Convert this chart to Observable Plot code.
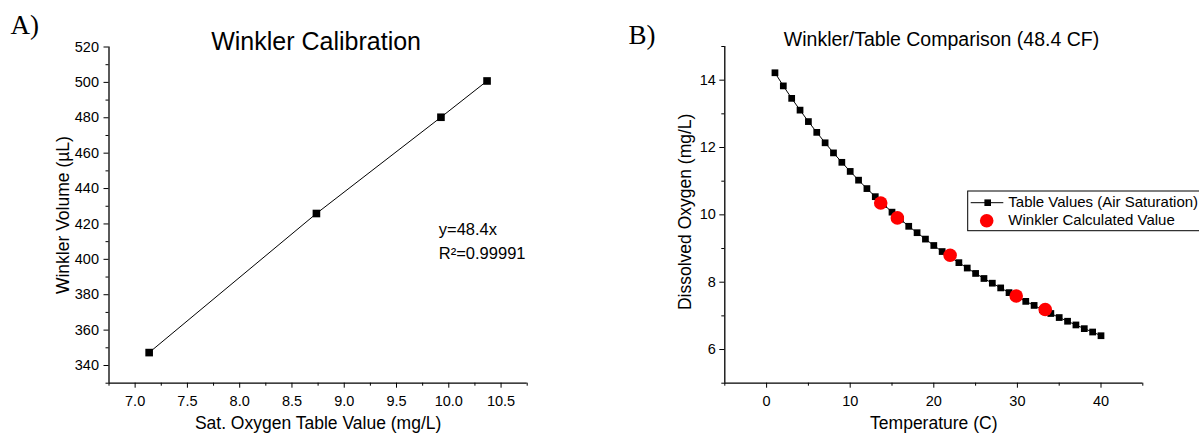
<!DOCTYPE html>
<html>
<head>
<meta charset="utf-8">
<script src="https://cdn.jsdelivr.net/npm/d3@7"></script>
<script src="https://cdn.jsdelivr.net/npm/@observablehq/plot@0.6"></script>
<style>
  html, body { margin: 0; padding: 0; background: #fff; }
  #wrap { position: relative; width: 1199px; height: 436px; overflow: hidden; background: #fff; }
  #wrap > svg, #wrap > figure { position: absolute; top: 0; margin: 0; }
</style>
</head>
<body>
<div id="wrap"></div>
<script>
// ---------- Panel A data ----------
const calibTable  = [7.134, 8.734, 9.925, 10.366];     // Sat. oxygen table value (mg/L)
const calibVolume = [347.3, 425.9, 480.3, 500.8];      // Winkler volume (µL)
const xDomainA = [6.75, 10.75];
const yDomainA = [330, 520];
const xMajorA = [7.0, 7.5, 8.0, 8.5, 9.0, 9.5, 10.0, 10.5];
const xMinorA = [6.75, 7.25, 7.75, 8.25, 8.75, 9.25, 9.75, 10.25, 10.75];
const yMajorA = [340, 360, 380, 400, 420, 440, 460, 480, 500, 520];
const yMinorA = [330, 350, 370, 390, 410, 430, 450, 470, 490, 510];

// ---------- Panel B data ----------
const tempC = [1, 2, 3, 4, 5, 6, 7, 8, 9, 10, 11, 12, 13, 14, 15, 16, 17, 18, 19, 20,
               21, 22, 23, 24, 25, 26, 27, 28, 29, 30, 31, 32, 33, 34, 35, 36, 37, 38, 39, 40];
const tableDO = [14.22, 13.83, 13.46, 13.11, 12.77, 12.45, 12.14, 11.84, 11.56, 11.29,
                 11.03, 10.78, 10.54, 10.31, 10.08, 9.87, 9.66, 9.47, 9.28, 9.09,
                 8.91, 8.74, 8.58, 8.42, 8.26, 8.11, 7.97, 7.83, 7.69, 7.56,
                 7.43, 7.31, 7.18, 7.07, 6.95, 6.84, 6.73, 6.62, 6.52, 6.41];
const winklerTemp = [13.65, 15.64, 21.95, 29.86, 33.33];
const winklerDO   = [10.35, 9.91, 8.80, 7.59, 7.19];
const xDomainB = [-5, 45];
const yDomainB = [5, 15];
const xMajorB = [0, 10, 20, 30, 40];
const xMinorB = [-5, 5, 15, 25, 35, 45];
const yMajorB = [6, 8, 10, 12, 14];
const yMinorB = [5, 7, 9, 11, 13, 15];

const legendLabels = ["Table Values (Air Saturation)", "Winkler Calculated Value"];

const SANS = "'Liberation Sans', Arial, Helvetica, sans-serif";
const SERIF = "'Liberation Serif', 'Times New Roman', serif";

const calibData = calibTable.map((v, i) => ({table: v, volume: calibVolume[i]}));
const tableData = tempC.map((t, i) => ({temp: t, oxygen: tableDO[i]}));
const winklerData = winklerTemp.map((t, i) => ({temp: t, oxygen: winklerDO[i]}));

const baseStyle = {fontFamily: SANS, fontSize: "14px", color: "black", background: "transparent", overflow: "visible"};
const txt = d => d;
const T = (s, o) => Plot.text([s], {text: txt, textAnchor: "middle", lineAnchor: "middle", ...o});

// ---------- Panel A ----------
const chartA = Plot.plot({
  width: 600, height: 436,
  marginLeft: 108.5, marginRight: 73.3, marginTop: 46.5, marginBottom: 53.3,
  style: baseStyle,
  x: {domain: xDomainA, label: null},
  y: {domain: yDomainA, label: null},
  marks: [
    Plot.axisX(xMajorA, {tickSize: 5, tickPadding: 8, tickFormat: d3.format(".1f"), fontSize: 14.5, label: null}),
    Plot.axisX(xMinorA, {tickSize: 3, fill: "none", label: null}),
    Plot.axisY(yMajorA, {tickSize: 5, tickPadding: 5, fontSize: 14.5, label: null}),
    Plot.axisY(yMinorA, {tickSize: 3, fill: "none", label: null}),
    Plot.ruleX([xDomainA[0]], {stroke: "black", strokeWidth: 1.3}),
    Plot.ruleY([yDomainA[0]], {stroke: "black", strokeWidth: 1.3}),
    Plot.line(calibData, {x: "table", y: "volume", stroke: "black", strokeWidth: 1}),
    Plot.dot(calibData, {x: "table", y: "volume", symbol: "square", r: 4.3, fill: "black", stroke: null}),
    T("A)", {frameAnchor: "top-left", textAnchor: "start", dx: -98.5, dy: -22, fontSize: 27, fontFamily: SERIF}),
    T("Winkler Calibration", {frameAnchor: "top", dx: -2, dy: -5.5, fontSize: 25}),
    T("Winkler Volume (µL)", {frameAnchor: "left", rotate: -90, dx: -45.5, fontSize: 17.5}),
    T("Sat. Oxygen Table Value (mg/L)", {frameAnchor: "bottom", dy: 40.5, fontSize: 17.5}),
    T("y=48.4x", {frameAnchor: "top-left", textAnchor: "start", dx: 329.8, dy: 183.2, fontSize: 16.5}),
    T("R²=0.99991", {frameAnchor: "top-left", textAnchor: "start", dx: 329.8, dy: 206.5, fontSize: 16.5})
  ]
});
chartA.style.left = "0px";

// ---------- Panel B ----------
const chartB = Plot.plot({
  width: 599, height: 436,
  marginLeft: 124.3, marginRight: 56.7, marginTop: 46, marginBottom: 53.3,
  style: baseStyle,
  x: {domain: xDomainB, label: null},
  y: {domain: yDomainB, label: null},
  marks: [
    Plot.axisX(xMajorB, {tickSize: 5, tickPadding: 8, fontSize: 14.5, label: null}),
    Plot.axisX(xMinorB, {tickSize: 3, fill: "none", label: null}),
    Plot.axisY(yMajorB, {tickSize: 5, tickPadding: 4, fontSize: 14.5, label: null}),
    Plot.axisY(yMinorB, {tickSize: 3, fill: "none", label: null}),
    Plot.ruleX([xDomainB[0]], {stroke: "black", strokeWidth: 1.3}),
    Plot.ruleY([yDomainB[0]], {stroke: "black", strokeWidth: 1.3}),
    Plot.line(tableData, {x: "temp", y: "oxygen", stroke: "black", strokeWidth: 1}),
    Plot.dot(tableData, {x: "temp", y: "oxygen", symbol: "square", r: 3.8, fill: "black", stroke: null}),
    Plot.dot(winklerData, {x: "temp", y: "oxygen", r: 6.8, fill: "#ff0000", stroke: null}),
    T("B)", {frameAnchor: "top-left", textAnchor: "start", dx: -96.3, dy: -11, fontSize: 27, fontFamily: SERIF}),
    T("Winkler/Table Comparison (48.4 CF)", {frameAnchor: "top", dx: 7.7, dy: -6.5, fontSize: 19.5}),
    T("Dissolved Oxygen (mg/L)", {frameAnchor: "left", rotate: -90, dx: -39.3, dy: -3, fontSize: 17.5}),
    T("Temperature (C)", {frameAnchor: "bottom", dy: 40.5, fontSize: 17.5})
  ]
});
chartB.style.left = "600px";

const wrap = document.getElementById("wrap");
wrap.appendChild(chartA);
wrap.appendChild(chartB);

// ---------- Legend (panel B) ----------
const ns = "http://www.w3.org/2000/svg";
const leg = document.createElementNS(ns, "svg");
leg.setAttribute("width", 1199);
leg.setAttribute("height", 436);
leg.style.position = "absolute";
leg.style.left = "0px";
leg.style.top = "0px";
leg.style.fontFamily = SANS;
function el(name, attrs, text) {
  const e = document.createElementNS(ns, name);
  for (const k in attrs) e.setAttribute(k, attrs[k]);
  if (text != null) e.textContent = text;
  leg.appendChild(e);
  return e;
}
el("rect", {x: 967.7, y: 191, width: 250, height: 39.7, fill: "white", stroke: "black", "stroke-width": 1});
el("line", {x1: 970.7, x2: 1003.3, y1: 202.7, y2: 202.7, stroke: "black", "stroke-width": 1});
el("rect", {x: 984.4, y: 199.4, width: 6.6, height: 6.6, fill: "black"});
el("text", {x: 1008.3, y: 206.7, "font-size": 15, fill: "black"}, legendLabels[0]);
el("circle", {cx: 986.7, cy: 220.7, r: 6.8, fill: "#ff0000"});
el("text", {x: 1008.3, y: 224.8, "font-size": 15, fill: "black"}, legendLabels[1]);
wrap.appendChild(leg);
</script>
</body>
</html>
